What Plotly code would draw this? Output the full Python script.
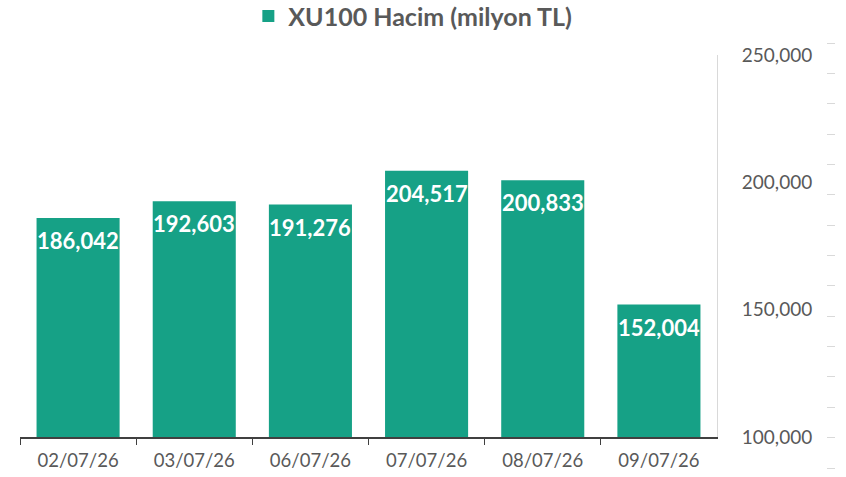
import plotly.graph_objects as go

categories = ["02/07/26", "03/07/26", "06/07/26", "07/07/26", "08/07/26", "09/07/26"]
values = [186042, 192603, 191276, 204517, 200833, 152004]
value_labels = ["186,042", "192,603", "191,276", "204,517", "200,833", "152,004"]
series_name = "XU100 Hacim (milyon TL)"
y_tickvals = [100000, 150000, 200000, 250000]
y_ticktext = ["100,000", "150,000", "200,000", "250,000"]

W, H = 846, 477
GREEN = "#16A186"
GRAY = "#595959"
FONT = "Lato"

fig = go.Figure()
fig.add_trace(go.Bar(
    x=categories, y=values, name="<b>" + series_name + "</b>",
    marker=dict(color=GREEN, line=dict(width=0)),
    hoverinfo="skip",
))
# decorative tick column on the far right (independent scale)
fig.add_trace(go.Scatter(x=[], y=[], xaxis="x2", yaxis="y2", showlegend=False))

# value labels inside the top of each bar
for cat, val, lab in zip(categories, values, value_labels):
    fig.add_annotation(x=cat, y=val, xref="x", yref="y", text="<b>" + lab + "</b>",
                       showarrow=False, yanchor="top", xanchor="center", yshift=-7,
                       font=dict(family=FONT, size=22, color="white"))

fig.update_layout(
    width=W, height=H,
    margin=dict(l=0, r=0, t=0, b=0, autoexpand=False),
    paper_bgcolor="white", plot_bgcolor="white",
    bargap=0.285,
    font=dict(family=FONT, color=GRAY),
    showlegend=True,
    legend=dict(orientation="h", x=0.488, xanchor="center", y=1.014, yanchor="top",
                font=dict(family=FONT, size=25, color=GRAY),
                itemsizing="constant", bgcolor="rgba(0,0,0,0)"),
    xaxis=dict(domain=[20 / W, 717 / W], showgrid=False, showline=True,
               linecolor="#404040", linewidth=1.5, ticks="outside",
               tickson="boundaries", ticklen=6, tickcolor="#404040",
               ticklabelstandoff=6,
               tickfont=dict(family=FONT, size=18.5, color=GRAY),
               anchor="y", zeroline=False, automargin=False),
    yaxis=dict(domain=[(H - 437) / H, (H - 55) / H], range=[100000, 250000],
               side="right", showgrid=False, showline=True,
               linecolor="#D9D9D9", linewidth=1, ticks="",
               tickvals=y_tickvals, ticktext=y_ticktext,
               ticklabelstandoff=20,
               tickfont=dict(family=FONT, size=19, color=GRAY),
               zeroline=False, anchor="x", automargin=False),
    xaxis2=dict(domain=[0.9, 0.98], visible=False, anchor="y2", range=[0, 1],
                automargin=False),
    yaxis2=dict(domain=[(H - 468) / H, (H - 43) / H], range=[0, 14], dtick=1,
                anchor="free", position=826 / W, side="right",
                showline=False, showgrid=False, zeroline=False,
                ticks="outside", ticklen=8, tickcolor="#D9D9D9", tickwidth=1,
                showticklabels=False, automargin=False),
)

fig.write_html("out.html", config={"displayModeBar": False},
               post_script="document.body.style.margin='0';")
